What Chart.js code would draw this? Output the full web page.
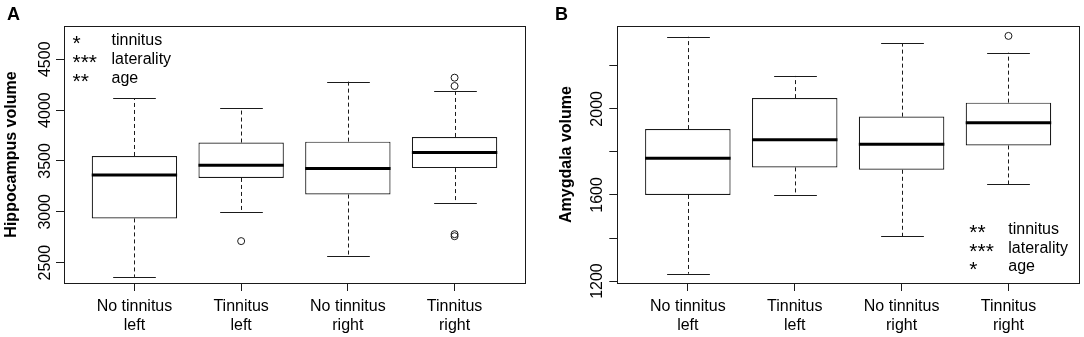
<!DOCTYPE html>
<html><head><meta charset="utf-8">
<script src="https://cdn.jsdelivr.net/npm/chart.js@4/dist/chart.umd.min.js"></script>
<style>
html,body{margin:0;padding:0;background:#fff;}
#wrap{position:relative;width:1084px;height:337px;overflow:hidden;}
.c{position:absolute;top:0;width:542px;height:337px;}
canvas{display:block;}
</style></head><body>
<div id="wrap">
<div class="c" style="left:0"><canvas id="cA" width="542" height="337"></canvas></div>
<div class="c" style="left:542px"><canvas id="cB" width="542" height="337"></canvas></div>
</div>
<script>
// ---- shared categories ----
const categories = [['No tinnitus','left'],['Tinnitus','left'],['No tinnitus','right'],['Tinnitus','right']];
const positions = [1, 2, 3, 4];

// ---- Panel A: Hippocampus volume ----
const hippoLowerWhisker = [2360, 3000, 2570, 3085];
const hippoQ1           = [2935, 3333, 3170, 3430];
const hippoMedian       = [3363, 3458, 3425, 3583];
const hippoQ3           = [3549, 3681, 3690, 3736];
const hippoUpperWhisker = [4118, 4017, 4280, 4191];
const hippoOutliers     = [[], [2712], [], [4237, 4319, 2780, 2760]];
const hippoTicks        = [2500, 3000, 3500, 4000, 4500];
const hippoTickLabels   = ['2500', '3000', '3500', '4000', '4500'];
const sigA              = ['*', '***', '**'];

// ---- Panel B: Amygdala volume ----
const amygLowerWhisker = [1234, 1600, 1408, 1651];
const amygQ1           = [1600, 1728, 1717, 1830];
const amygMedian       = [1771, 1856, 1836, 1936];
const amygQ3           = [1906, 2050, 1964, 2029];
const amygUpperWhisker = [2335, 2153, 2305, 2261];
const amygOutliers     = [[], [], [], [2339]];
const amygTicks        = [1200, 1400, 1600, 1800, 2000, 2200];
const amygTickLabels   = ['1200', '', '1600', '', '2000', ''];
const sigB             = ['**', '***', '*'];

const terms = ['tinnitus', 'laterality', 'age'];

const FONT = "'Liberation Sans', Arial, Helvetica, sans-serif";
const INK = '#1a1a1a';

function makePanel(canvasId, p) {
  const boxData = positions.map((x, i) => ({x: x, y: [p.q1[i], p.q3[i]]}));
  const outData = [];
  p.out.forEach((arr, i) => arr.forEach(v => outData.push({x: positions[i], y: v})));

  const plugin = {
    id: 'boxplot_' + canvasId,
    beforeDatasetsDraw(chart) {
      const ctx = chart.ctx, xs = chart.scales.x, ys = chart.scales.y;
      const capHalf = xs.getPixelForValue(1.2) - xs.getPixelForValue(1);
      ctx.save();
      ctx.strokeStyle = INK;
      ctx.lineWidth = 1;
      positions.forEach((xv, i) => {
        const px = Math.round(xs.getPixelForValue(xv)) + 0.5;
        const segs = [[p.q3[i], p.hi[i]], [p.q1[i], p.lo[i]]];
        segs.forEach(([a, b]) => {
          const ya = ys.getPixelForValue(a), yb = ys.getPixelForValue(b);
          ctx.setLineDash([4, 3]);
          ctx.beginPath(); ctx.moveTo(px, ya); ctx.lineTo(px, yb); ctx.stroke();
          ctx.setLineDash([]);
          const yc = Math.round(yb) + 0.5;
          ctx.beginPath(); ctx.moveTo(px - capHalf, yc); ctx.lineTo(px + capHalf, yc); ctx.stroke();
        });
      });
      ctx.restore();
    },
    afterDatasetsDraw(chart) {
      const ctx = chart.ctx, xs = chart.scales.x, ys = chart.scales.y;
      const half = xs.getPixelForValue(1.4) - xs.getPixelForValue(1);
      ctx.save();
      ctx.strokeStyle = '#000';
      ctx.lineWidth = 3;
      positions.forEach((xv, i) => {
        const px = xs.getPixelForValue(xv);
        const y = ys.getPixelForValue(p.med[i]);
        ctx.beginPath(); ctx.moveTo(px - half, y); ctx.lineTo(px + half, y); ctx.stroke();
      });
      ctx.restore();
    },
    afterDraw(chart) {
      const ctx = chart.ctx, ys = chart.scales.y, a = chart.chartArea;
      ctx.save();
      // frame
      ctx.strokeStyle = INK; ctx.lineWidth = 1;
      ctx.strokeRect(Math.round(a.left) + 0.5, Math.round(a.top) + 0.5,
                     Math.round(a.right - a.left), Math.round(a.bottom - a.top));
      // y tick labels (rotated, parallel to axis)
      ctx.fillStyle = '#000';
      ctx.font = '16px ' + FONT;
      ctx.textAlign = 'center';
      ctx.textBaseline = 'alphabetic';
      p.ticks.forEach((v, i) => {
        const lab = p.tickLabels[i];
        if (!lab) return;
        ctx.save();
        ctx.translate(a.left - p.labelGap, ys.getPixelForValue(v));
        ctx.rotate(-Math.PI / 2);
        ctx.fillText(lab, 0, 0);
        ctx.restore();
      });
      // significance legend
      ctx.textAlign = 'left';
      ctx.textBaseline = 'alphabetic';
      const lx = p.legRight ? a.right - p.legX : a.left + p.legX;
      const ly0 = p.legBottom ? a.bottom - p.legY : a.top + p.legY;
      p.sig.forEach((s, i) => {
        const y = ly0 + i * p.legStep;
        ctx.font = '21px ' + FONT;
        ctx.fillText(s, lx, y + 10.5);
        ctx.font = '16px ' + FONT;
        ctx.fillText(terms[i], lx + p.legTermDx, y + 5.5);
      });
      // panel letter
      ctx.font = 'bold 18px ' + FONT;
      ctx.textBaseline = 'alphabetic';
      ctx.fillText(p.letter, p.letterX, 20);
      ctx.restore();
    }
  };

  return new Chart(document.getElementById(canvasId), {
    type: 'bar',
    data: {
      datasets: [
        {
          type: 'bar',
          data: boxData,
          backgroundColor: '#ffffff',
          borderColor: INK,
          borderWidth: 1.2,
          borderSkipped: false,
          categoryPercentage: 0.8,
          barPercentage: 1.0
        },
        {
          type: 'scatter',
          data: outData,
          pointRadius: 3.5,
          pointBackgroundColor: 'rgba(0,0,0,0)',
          pointBorderColor: INK,
          pointBorderWidth: 1,
          showLine: false
        }
      ]
    },
    options: {
      responsive: false,
      animation: false,
      devicePixelRatio: 1,
      layout: {padding: {top: 26, right: p.padRight, left: 0, bottom: 0}},
      plugins: {legend: {display: false}, tooltip: {enabled: false}, title: {display: false}},
      scales: {
        x: {
          type: 'linear',
          offset: false,
          min: 0.34, max: 4.66,
          afterBuildTicks: s => { s.ticks = positions.map(v => ({value: v})); },
          afterFit: s => { s.height = 54; },
          ticks: {
            autoSkip: false, maxRotation: 0, minRotation: 0,
            padding: 6.5,
            color: '#000',
            font: {family: FONT, size: 16, lineHeight: 1.15},
            callback: (v, i) => categories[i]
          },
          grid: {offset: false, drawOnChartArea: false, drawTicks: true, tickLength: 8, color: INK, lineWidth: 1},
          border: {display: true, color: INK, width: 1}
        },
        y: {
          type: 'linear',
          min: p.min, max: p.max,
          afterBuildTicks: s => { s.ticks = p.ticks.map(v => ({value: v})); },
          afterFit: s => { s.width = p.axisLeft; },
          ticks: {display: false},
          grid: {drawOnChartArea: false, drawTicks: true, tickLength: 8, color: INK, lineWidth: 1},
          border: {display: true, color: INK, width: 1},
          title: {
            display: true,
            text: p.title,
            color: '#000',
            font: {family: FONT, size: 16, weight: 'bold', lineHeight: 1.2},
            padding: {top: p.titlePad, bottom: 0}
          }
        }
      }
    },
    plugins: [plugin]
  });
}

makePanel('cA', {
  lo: hippoLowerWhisker, q1: hippoQ1, med: hippoMedian, q3: hippoQ3, hi: hippoUpperWhisker,
  out: hippoOutliers, ticks: hippoTicks, tickLabels: hippoTickLabels,
  min: 2300, max: 4827, axisLeft: 64, padRight: 17,
  title: 'Hippocampus volume', titlePad: 1.6, labelGap: 14,
  sig: sigA, legRight: false, legBottom: false, legX: 8.5, legY: 13, legStep: 19, legTermDx: 39,
  letter: 'A', letterX: 7
});

makePanel('cB', {
  lo: amygLowerWhisker, q1: amygQ1, med: amygMedian, q3: amygQ3, hi: amygUpperWhisker,
  out: amygOutliers, ticks: amygTicks, tickLabels: amygTickLabels,
  min: 1191, max: 2385, axisLeft: 75.3, padRight: 5,
  title: 'Amygdala volume', titlePad: 14.6, labelGap: 15.3,
  sig: sigB, legRight: true, legBottom: true, legX: 109.7, legY: 54.3, legStep: 18.5, legTermDx: 39,
  letter: 'B', letterX: 13
});
</script>
</body></html>
